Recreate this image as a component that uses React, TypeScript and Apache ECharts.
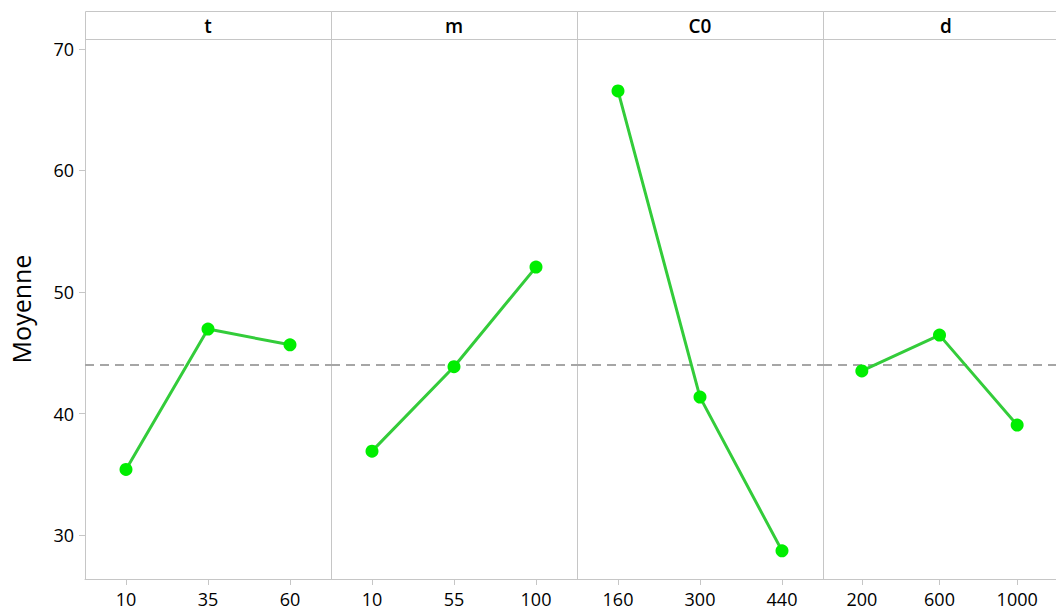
import React, { useEffect, useRef } from "react";
import * as echarts from "echarts";

const factors = ["t", "m", "C0", "d"];
const tLevels = ["10", "35", "60"];
const tMeans = [35.4, 46.95, 45.65];
const mLevels = ["10", "55", "100"];
const mMeans = [36.9, 43.85, 52.05];
const c0Levels = ["160", "300", "440"];
const c0Means = [66.55, 41.35, 28.7];
const dLevels = ["200", "600", "1000"];
const dMeans = [43.5, 46.45, 39.05];
const grandMean = 44.0;
const yTicks = [30, 40, 50, 60, 70];

const levels = [tLevels, mLevels, c0Levels, dLevels];
const means = [tMeans, mMeans, c0Means, dMeans];

const W = 1056;
const H = 611;
const LEFT = 85;
const PANEL_W = 246;
const TOP = 39;
const STRIP_TOP = 11;
const BOTTOM = 579;
const Y_MIN = 26.38;
const Y_MAX = 70.82;
const FONT = "'Open Sans', 'Noto Sans', sans-serif";
const GRAY = "#c6c6c6";

export default function App() {
  const ref = useRef<HTMLDivElement>(null);
  useEffect(() => {
    if (!ref.current) return;
    const chart = echarts.init(ref.current, null, { renderer: "svg" });
    const grids = factors.map((_, i) => ({
      left: LEFT + PANEL_W * i,
      top: TOP,
      width: PANEL_W,
      height: BOTTOM - TOP,
    }));
    const xAxes = factors.map((_, i) => ({
      type: "category",
      gridIndex: i,
      data: levels[i],
      boundaryGap: true,
      axisLine: { show: true, lineStyle: { color: GRAY, width: 1 } },
      axisTick: { show: true, alignWithLabel: true, length: 6, lineStyle: { color: GRAY } },
      axisLabel: { color: "#000", fontSize: 18, fontWeight: 500, fontFamily: FONT, margin: 11 },
      splitLine: { show: false },
    }));
    const yAxes = factors.map((_, i) => ({
      type: "value",
      gridIndex: i,
      min: Y_MIN,
      max: Y_MAX,
      name: i === 0 ? "Moyenne" : "",
      nameLocation: "middle",
      nameGap: 52,
      nameTextStyle: { color: "#000", fontSize: 25, fontWeight: 500, fontFamily: FONT },
      axisLine: { show: true, lineStyle: { color: GRAY, width: 1 } },
      axisTick: {
        show: i === 0,
        length: 6,
        customValues: yTicks,
        lineStyle: { color: GRAY },
      },
      axisLabel: {
        show: i === 0,
        customValues: yTicks,
        color: "#000",
        fontSize: 18,
        fontWeight: 500,
        fontFamily: FONT,
        margin: 11,
      },
      splitLine: { show: false },
    }));
    const series = factors.map((f, i) => ({
      type: "line",
      name: f,
      xAxisIndex: i,
      yAxisIndex: i,
      data: means[i],
      symbol: "circle",
      symbolSize: 13,
      lineStyle: { color: "#33cc3a", width: 3 },
      itemStyle: { color: "#00ee00" },
      z: 3,
      markLine: {
        silent: true,
        symbol: "none",
        label: { show: false },
        lineStyle: { color: "#a6a6a6", width: 2.2, type: [9, 6] },
        data: [{ yAxis: grandMean }],
        z: 2,
      },
    }));
    const graphics: any[] = [];
    factors.forEach((f, i) => {
      graphics.push({
        type: "rect",
        shape: { x: LEFT + PANEL_W * i + 0.5, y: STRIP_TOP + 0.5, width: PANEL_W, height: TOP - STRIP_TOP },
        style: { fill: "none", stroke: GRAY, lineWidth: 1 },
      });
      graphics.push({
        type: "text",
        x: LEFT + PANEL_W * i + PANEL_W / 2,
        y: (STRIP_TOP + TOP) / 2 + 1,
        style: {
          text: f,
          fill: "#000",
          font: `600 19px ${FONT}`,
          align: "center",
          verticalAlign: "middle",
        },
      });
    });
    chart.setOption({
      animation: false,
      backgroundColor: "#fff",
      grid: grids,
      xAxis: xAxes,
      yAxis: yAxes,
      series,
      graphic: graphics,
    });
    return () => chart.dispose();
  }, []);
  return (
    <div
      ref={ref}
      style={{ position: "absolute", left: 0, top: 0, width: W, height: H }}
    />
  );
}
